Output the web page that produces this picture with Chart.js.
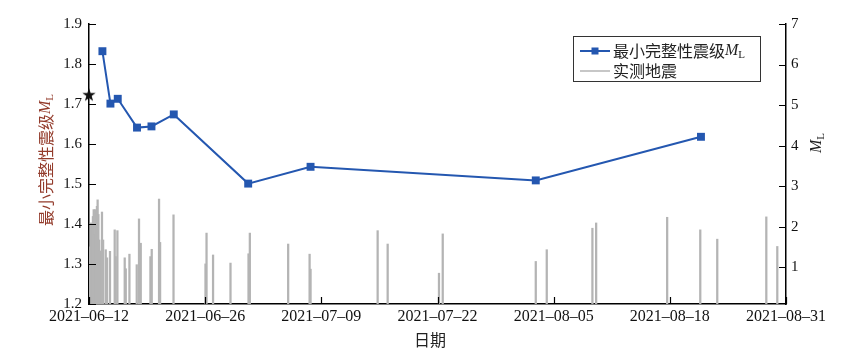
<!DOCTYPE html>
<html>
<head>
<meta charset="utf-8">
<script src="https://cdn.jsdelivr.net/npm/chart.js@4.4.1/dist/chart.umd.min.js"></script>
<style>
  html, body { margin: 0; padding: 0; background: #fff; }
  #wrap { width: 844px; height: 359px; }
</style>
</head>
<body>
<div id="wrap"><canvas id="c" width="844" height="359"></canvas></div>
<script>
// x is days since 2021-06-12
const dateTicks  = [0, 13.333, 26.667, 40, 53.333, 66.667, 80]
const dateLabels = ['2021–06–12', '2021–06–26', '2021–07–09', '2021–07–22', '2021–08–05', '2021–08–18', '2021–08–31']
const leftTicks  = [1.2, 1.3, 1.4, 1.5, 1.6, 1.7, 1.8, 1.9]
const rightTicks = [1, 2, 3, 4, 5, 6, 7]

// 最小完整性震级
const mcDays   = [1.54, 2.46, 3.30, 5.51, 7.17, 9.73, 18.27, 25.43, 51.28, 70.24]
const mcValues = [1.832, 1.701, 1.713, 1.641, 1.644, 1.674, 1.501, 1.543, 1.509, 1.618]

// main shock marker
const mainDay = 0
const mainValue = 1.722

// 实测地震
const quakeDays = [0.06, 0.14, 0.23, 0.34, 0.45, 0.54, 0.63, 0.72, 0.82, 0.91, 0.99, 1.08, 1.17, 1.26, 1.35, 1.49, 1.62,
  1.92, 2.07, 2.41, 2.95, 3.06, 3.26, 4.10, 4.22, 4.64, 5.48, 5.74, 5.94, 7.05, 7.20, 8.04, 8.16, 9.70,
  13.37, 13.49, 14.24, 16.24, 18.31, 18.46, 22.86, 25.32, 25.43, 33.13, 34.28, 40.17, 40.60,
  51.28, 52.54, 57.78, 58.21, 66.36, 70.16, 72.11, 77.74, 79.00]
const quakeMags = [1.2, 1.5, 2.09, 2.05, 2.25, 2.42, 1.8, 2.42, 2.35, 2.5, 2.66, 2.3, 1.67, 1.4, 1.1, 2.36, 1.67,
  1.43, 1.23, 1.39, 1.92, 1.26, 1.9, 1.23, 0.96, 1.32, 1.06, 2.19, 1.59, 1.26, 1.44, 2.68, 1.61, 2.29,
  1.08, 1.84, 1.3, 1.1, 1.33, 1.84, 1.57, 1.32, 0.95, 1.9, 1.57, 0.85, 1.82,
  1.14, 1.43, 1.96, 2.09, 2.23, 1.92, 1.69, 2.24, 1.51]

const blue = '#2457b0'
const grey = '#b4b4b4'
const serif = '"Liberation Serif", "DejaVu Serif", serif'
const cjk = '"Noto Sans CJK SC", sans-serif'

function makeStar(r) {
  const cv = document.createElement('canvas')
  cv.width = cv.height = r * 2 + 2
  const g = cv.getContext('2d')
  g.fillStyle = '#111'
  g.beginPath()
  for (let i = 0; i < 10; i++) {
    const rad = i % 2 === 0 ? r : r * 0.4
    const a = -Math.PI / 2 + i * Math.PI / 5
    const px = r + 1 + rad * Math.cos(a)
    const py = r + 1 + rad * Math.sin(a)
    if (i === 0) g.moveTo(px, py); else g.lineTo(px, py)
  }
  g.closePath()
  g.fill()
  return cv
}

function richText(ctx, parts, cx, cy, rot, color) {
  ctx.save()
  ctx.translate(cx, cy)
  ctx.rotate(rot)
  ctx.fillStyle = color
  ctx.textBaseline = 'middle'
  ctx.textAlign = 'left'
  let w = 0
  parts.forEach(p => { ctx.font = p.font; p.w = ctx.measureText(p.t).width; w += p.w })
  let px = -w / 2
  parts.forEach(p => { ctx.font = p.font; ctx.fillText(p.t, px, p.dy || 0); px += p.w })
  ctx.restore()
}

function mlParts(prefix, size) {
  const parts = []
  if (prefix) parts.push({ t: prefix, font: size + 'px ' + cjk })
  parts.push({ t: 'M', font: 'italic ' + size + 'px ' + serif })
  parts.push({ t: 'L', font: Math.round(size * 0.68) + 'px ' + serif, dy: size * 0.28 })
  return parts
}

const decor = {
  id: 'decor',
  afterDraw(chart) {
    const ctx = chart.ctx
    const { x, y, y1 } = chart.scales
    const a = chart.chartArea
    ctx.save()
    ctx.strokeStyle = '#000'
    ctx.lineWidth = 1.2
    ctx.beginPath()
    leftTicks.forEach(v => { const py = Math.round(y.getPixelForValue(v)) + 0.5; ctx.moveTo(a.left, py); ctx.lineTo(a.left + 7, py) })
    rightTicks.forEach(v => { const py = Math.round(y1.getPixelForValue(v)) + 0.5; ctx.moveTo(a.right, py); ctx.lineTo(a.right - 7, py) })
    dateTicks.forEach(v => { const px = Math.round(x.getPixelForValue(v)) + 0.5; ctx.moveTo(px, a.bottom); ctx.lineTo(px, a.bottom - 7) })
    ctx.stroke()

    // axis titles
    richText(ctx, mlParts('最小完整性震级', 16), 46, 160, -Math.PI / 2, '#933b2b')
    richText(ctx, mlParts('', 16), 817, 143, -Math.PI / 2, '#222')
    richText(ctx, [{ t: '日期', font: '16px ' + cjk }], 430, 340, 0, '#222')

    // legend
    ctx.fillStyle = '#fff'
    ctx.fillRect(573, 36, 188, 46)
    ctx.strokeStyle = '#333'
    ctx.lineWidth = 1
    ctx.strokeRect(573.5, 36.5, 187, 45)
    ctx.strokeStyle = blue
    ctx.lineWidth = 2
    ctx.beginPath(); ctx.moveTo(580, 51); ctx.lineTo(610, 51); ctx.stroke()
    ctx.fillStyle = blue
    ctx.fillRect(591.5, 47.5, 7, 7)
    ctx.strokeStyle = grey
    ctx.lineWidth = 1.5
    ctx.beginPath(); ctx.moveTo(580, 71); ctx.lineTo(610, 71); ctx.stroke()
    ctx.textBaseline = 'middle'
    ctx.textAlign = 'left'
    ctx.fillStyle = '#222'
    let px = 613
    mlParts('最小完整性震级', 16).forEach(p => {
      ctx.font = p.font
      ctx.fillText(p.t, px, 51 + (p.dy || 0))
      px += ctx.measureText(p.t).width
    })
    ctx.font = '16px ' + cjk
    ctx.fillText('实测地震', 613, 71)
    ctx.restore()
  }
}

const tickFont = { family: serif, size: 15 }

new Chart(document.getElementById('c'), {
  type: 'bar',
  data: {
    datasets: [
      {
        type: 'scatter',
        data: [{ x: mainDay, y: mainValue }],
        yAxisID: 'y',
        pointStyle: makeStar(7),
        clip: false,
        order: 1
      },
      {
        type: 'line',
        data: mcDays.map((d, i) => ({ x: d, y: mcValues[i] })),
        yAxisID: 'y',
        borderColor: blue,
        borderWidth: 2,
        pointStyle: 'rect',
        pointRadius: 5.6,
        pointBackgroundColor: blue,
        pointBorderWidth: 0,
        tension: 0,
        clip: false,
        order: 2
      },
      {
        type: 'bar',
        data: quakeDays.map((d, i) => ({ x: d, y: quakeMags[i] })),
        yAxisID: 'y1',
        backgroundColor: grey,
        borderWidth: 0,
        barThickness: 1.6,
        order: 3
      }
    ]
  },
  options: {
    responsive: false,
    animation: false,
    devicePixelRatio: 1,
    layout: { padding: { top: 24, left: 0, right: 0, bottom: 0 } },
    plugins: { legend: { display: false }, tooltip: { enabled: false } },
    scales: {
      x: {
        type: 'linear',
        min: 0,
        max: 80,
        offset: false,
        afterBuildTicks: s => { s.ticks = dateTicks.map(v => ({ value: v })) },
        afterFit: s => { s.height = 55 },
        ticks: {
          callback: (v, i) => dateLabels[i],
          font: { family: serif, size: 16 },
          color: '#111',
          padding: 3,
          maxRotation: 0,
          autoSkip: false
        },
        grid: { display: false, drawTicks: false, offset: false },
        border: { color: '#000', width: 1.5 }
      },
      y: {
        position: 'left',
        min: 1.2,
        max: 1.9,
        afterBuildTicks: s => { s.ticks = leftTicks.map(v => ({ value: v })) },
        afterFit: s => { s.width = 89 },
        ticks: { callback: v => v.toFixed(1), font: tickFont, color: '#111', padding: 7 },
        grid: { display: false, drawTicks: false },
        border: { color: '#000', width: 1.5 }
      },
      y1: {
        position: 'right',
        min: 0.09,
        max: 7,
        afterBuildTicks: s => { s.ticks = rightTicks.map(v => ({ value: v })) },
        afterFit: s => { s.width = 58 },
        ticks: { callback: v => String(v), font: tickFont, color: '#111', padding: 5 },
        grid: { display: false, drawTicks: false },
        border: { color: '#000', width: 1.5 }
      }
    }
  },
  plugins: [decor]
})
</script>
</body>
</html>
